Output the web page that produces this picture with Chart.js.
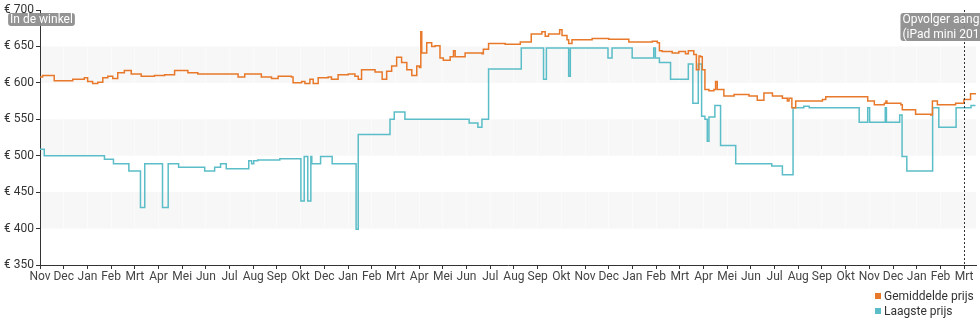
<!DOCTYPE html>
<html>
<head>
<meta charset="utf-8">
<script src="https://cdn.jsdelivr.net/npm/chart.js@4/dist/chart.umd.min.js"></script>
<style>
    body { margin: 0; background: #fff; font-family: Roboto, sans-serif; }
    #wrap { position: relative; width: 980px; height: 325px; }
    #legend { position: absolute; left: 875px; top: 289px; font-size: 12px; color: #333; line-height: 15px; }
    #legend span.box { display: inline-block; width: 6px; height: 6px; margin-right: 3px; vertical-align: 1px; }
</style>
</head>
<body>
<div id="wrap">
    <canvas id="priceChart"></canvas>
    <div id="legend"></div>
</div>
<script>
// Month tick labels (one per month, as on the original axis)
const monthLabels = ['Nov', 'Dec', 'Jan', 'Feb', 'Mrt', 'Apr', 'Mei', 'Jun', 'Jul', 'Aug', 'Sep', 'Okt',
                     'Dec', 'Jan', 'Feb', 'Mrt', 'Apr', 'Mei', 'Jun', 'Jul', 'Aug', 'Sep', 'Okt', 'Nov',
                     'Dec', 'Jan', 'Feb', 'Mrt', 'Apr', 'Mei', 'Jun', 'Jul', 'Aug', 'Sep', 'Okt', 'Nov',
                     'Dec', 'Jan', 'Feb', 'Mrt'];

// Gemiddelde prijs (x = months since first tick)
const avgX = [0, 0.11, 0.60, 1.38, 1.87, 2.01, 2.22, 2.44, 2.65, 2.86, 3.07, 3.28, 3.56, 3.85, 4.27, 4.83,
              5.26, 5.68, 6.24, 6.66, 7.37, 7.93, 8.36, 8.64, 9.34, 9.77, 10.05, 10.61, 10.68, 11.04, 11.18,
              11.39, 11.53, 11.74, 12.16, 12.30, 12.58, 13.01, 13.29, 13.43, 13.57, 13.92, 14.14, 14.44, 14.63,
              14.84, 15.05, 15.26, 15.48, 15.69, 15.90, 16.01, 16.07, 16.11, 16.32, 16.53, 16.67, 16.88, 17.02,
              17.31, 17.45, 17.52, 17.94, 18.65, 18.71, 18.93, 19.63, 20.27, 20.73, 21.18, 21.32, 21.46, 21.67,
              21.93, 22.03, 22.24, 22.31, 22.45, 23.30, 24.00, 24.85, 25.84, 26.05, 26.14, 26.26, 26.68, 26.96,
              27.24, 27.36, 27.59, 27.70, 27.81, 27.88, 27.95, 28.06, 28.23, 28.44, 28.51, 28.58, 28.86, 29.29,
              29.64, 29.92, 30.27, 30.55, 30.91, 31.33, 31.54, 31.61, 31.73, 31.89, 32.46, 33.02, 33.16, 34.08,
              34.93, 35.21, 35.63, 35.70, 35.74, 36.33, 36.39, 36.95, 37.59, 37.66, 37.87, 38.64, 38.99, 39.27, 39.48];
const avgY = [608, 610, 603, 605, 607, 602, 599, 601, 607, 609, 606, 614, 617, 612, 609, 610,
              611, 617, 614, 612, 612, 612, 608, 612, 608, 606, 609, 608, 600, 602, 599,
              605, 599, 607, 608, 605, 611, 612, 609, 605, 618, 618, 615, 605, 616,
              623, 635, 628, 618, 610, 623, 621, 670, 641, 655, 650, 651, 634, 631,
              636, 644, 636, 641, 640, 646, 654, 653, 656, 667, 670, 664, 667, 667,
              673, 665, 659, 654, 659, 661, 660, 656, 657, 655, 644, 643, 641, 643,
              640, 644, 639, 618, 637, 636, 618, 591, 589, 591, 602, 591, 582, 584,
              584, 582, 576, 586, 582, 579, 575, 579, 566, 575, 575, 577, 581, 581,
              575, 570, 572, 575, 572, 570, 563, 557, 556, 575, 570, 572, 577, 585, 584];

// Laagste prijs
const lowX = [0, 0.18, 2.72, 3.10, 3.75, 4.24, 4.42, 5.17, 5.41, 5.85, 6.95, 7.37, 7.62, 7.86, 8.81, 8.93,
              9.02, 9.19, 10.12, 11.01, 11.15, 11.30, 11.43, 11.47, 11.84, 12.33, 13.34, 13.43, 14.77, 14.95,
              15.40, 18.11, 18.48, 18.65, 18.93, 20.31, 21.25, 21.37, 22.31, 22.38, 23.97, 24.14, 24.99, 25.90,
              25.97, 26.14, 26.61, 27.36, 27.55, 27.78, 27.92, 28.06, 28.16, 28.23, 28.48, 28.72, 29.36, 30.88,
              31.33, 31.78, 32.23, 32.46, 34.57, 34.93, 35.01, 35.67, 35.72, 36.28, 36.38, 36.58, 37.67, 37.93,
              38.66, 39.29, 39.48];
const lowY = [509, 500, 495, 489, 479, 429, 489, 429, 489, 484, 479, 484, 489, 482, 493, 489,
              493, 494, 496, 438, 499, 438, 499, 489, 499, 489, 399, 529, 550, 560,
              550, 545, 539, 550, 619, 648, 605, 648, 609, 648, 634, 648, 634, 648,
              634, 628, 605, 626, 572, 626, 554, 550, 520, 553, 569, 514, 489, 486,
              474, 566, 568, 566, 546, 566, 546, 566, 546, 556, 499, 479, 566, 539,
              566, 569, 569];

// Events shown at the top of the chart
const eventX = [0, 39];
const eventLabels = [['In de winkel'], ['Opvolger aangekondigd', '(iPad mini 2019)']];

const yTicks = [350, 400, 450, 500, 550, 600, 650, 700];

const toPoints = (xs, ys) => xs.map((x, i) => ({ x: x, y: ys[i] }));

// Light bands behind the lines, every other 50 euro
const bandPlugin = {
    id: 'bands',
    beforeDraw(chart) {
        const { ctx, chartArea, scales } = chart;
        ctx.save();
        ctx.fillStyle = '#f7f7f7';
        [[600, 650], [500, 550], [400, 450]].forEach(([lo, hi]) => {
            const top = scales.y.getPixelForValue(hi);
            const bottom = scales.y.getPixelForValue(lo);
            ctx.fillRect(chartArea.left, top, chartArea.right - chartArea.left, bottom - top);
        });
        ctx.restore();
    }
};

// Event markers: dotted line plus grey label box
const eventPlugin = {
    id: 'events',
    afterDatasetsDraw(chart) {
        const { ctx, chartArea, scales } = chart;
        ctx.save();
        ctx.font = '12px Roboto, sans-serif';
        eventX.forEach((ev, i) => {
            const px = Math.round(scales.x.getPixelForValue(ev)) + 0.5;
            if (ev > 0) {
                ctx.strokeStyle = '#333';
                ctx.lineWidth = 1;
                ctx.setLineDash([2, 2]);
                ctx.beginPath();
                ctx.moveTo(px, chartArea.top);
                ctx.lineTo(px, chartArea.bottom);
                ctx.stroke();
                ctx.setLineDash([]);
            }
            const lines = eventLabels[i];
            const w = Math.max(...lines.map(l => ctx.measureText(l).width)) + 4;
            const h = lines.length * 15 - 2;
            const left = px - w / 2 + 1;
            const top = 13;
            ctx.fillStyle = 'rgba(135,135,135,0.9)';
            ctx.beginPath();
            ctx.roundRect(left, top, w, h, 3);
            ctx.fill();
            ctx.fillStyle = '#fff';
            ctx.textBaseline = 'middle';
            ctx.textAlign = 'left';
            lines.forEach((l, j) => ctx.fillText(l, left + 2, top + 7 + j * 15));
        });
        ctx.restore();
    }
};

const chart = new Chart(document.getElementById('priceChart'), {
    type: 'line',
    data: {
        datasets: [{
            label: 'Gemiddelde prijs',
            data: toPoints(avgX, avgY),
            borderColor: '#e8792b',
            backgroundColor: '#e8792b',
            borderWidth: 1.5,
            pointRadius: 0,
            stepped: true
        }, {
            label: 'Laagste prijs',
            data: toPoints(lowX, lowY),
            borderColor: '#5bbdc7',
            backgroundColor: '#5bbdc7',
            borderWidth: 1.5,
            pointRadius: 0,
            stepped: true
        }]
    },
    options: {
        responsive: true,
        maintainAspectRatio: false,
        animation: false,
        layout: { padding: { top: 10, right: 4, bottom: 40, left: 0 } },
        plugins: {
            legend: { display: false },
            tooltip: { enabled: false }
        },
        scales: {
            x: {
                type: 'linear',
                min: 0,
                max: 39.5,
                afterFit: (scale) => { scale.height = 20; },
                afterBuildTicks: (scale) => {
                    scale.ticks = monthLabels.map((_, i) => ({ value: i }));
                },
                ticks: {
                    autoSkip: false,
                    maxRotation: 0,
                    padding: 1,
                    color: '#444',
                    font: { family: 'Roboto', size: 12 },
                    callback: (v) => monthLabels[v]
                },
                grid: {
                    color: 'rgba(255,255,255,0.45)',
                    tickColor: '#333',
                    tickLength: 4
                },
                border: { color: '#333', width: 1 }
            },
            y: {
                min: 350,
                max: 700,
                afterFit: (scale) => { scale.width = 40; },
                afterBuildTicks: (scale) => {
                    scale.ticks = yTicks.map(v => ({ value: v }));
                },
                ticks: {
                    padding: 2,
                    color: '#333',
                    font: { family: 'Roboto', size: 12 },
                    callback: (v) => '€ ' + v
                },
                grid: {
                    drawOnChartArea: false,
                    tickColor: '#333',
                    tickLength: 4
                },
                border: { color: '#333', width: 1 }
            }
        }
    },
    plugins: [bandPlugin, eventPlugin]
});

// Legend, two rows at the bottom right
document.getElementById('legend').innerHTML = chart.data.datasets
    .map(ds => `<div><span class="box" style="background:${ds.borderColor}"></span>${ds.label}</div>`)
    .join('');
</script>
</body>
</html>
